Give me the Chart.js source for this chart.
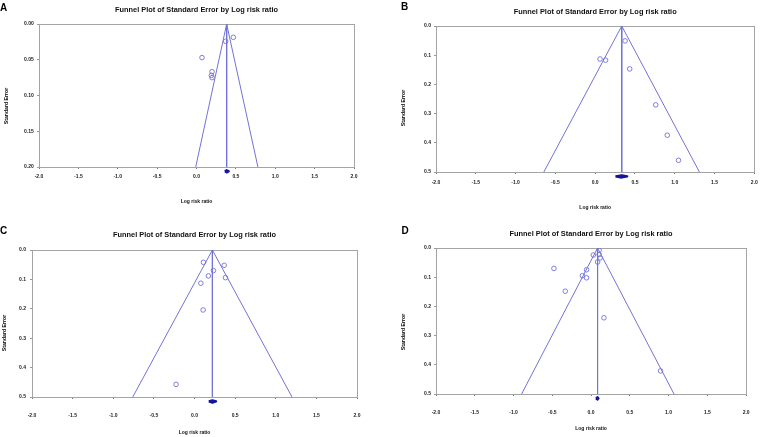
<!DOCTYPE html>
<html>
<head>
<meta charset="utf-8">
<script src="https://cdn.jsdelivr.net/npm/chart.js@4"></script>
<style>
  html, body { margin: 0; padding: 0; background: #fff; }
  body { width: 763px; height: 437px; position: relative; overflow: hidden; font-family: "Liberation Sans", Arial, sans-serif; }
  canvas { position: absolute; }
  .letter { position: absolute; font-weight: bold; font-size: 10px; line-height: 10px; color: #000; }
  .ytitle { position: absolute; width: 0; height: 0; }
  .ytitle span { position: absolute; left: 0; top: 0; white-space: nowrap; font-weight: bold; font-size: 5.2px; line-height: 5.2px; color: #000; transform: translate(-50%, -50%) rotate(-90deg); }
</style>
</head>
<body>
<canvas id="cA" width="381" height="218" style="left:0;top:0"></canvas>
<canvas id="cB" width="382" height="218" style="left:381px;top:0"></canvas>
<canvas id="cC" width="381" height="219" style="left:0;top:218px"></canvas>
<canvas id="cD" width="382" height="219" style="left:381px;top:218px"></canvas>

<div class="letter" style="left:0px;top:2.5px">A</div>
<div class="letter" style="left:401px;top:2px">B</div>
<div class="letter" style="left:0px;top:226px">C</div>
<div class="letter" style="left:401.5px;top:226px">D</div>

<div class="ytitle" style="left:6.7px;top:105.7px"><span>Standard Error</span></div>
<div class="ytitle" style="left:404.3px;top:108px"><span>Standard Error</span></div>
<div class="ytitle" style="left:4.7px;top:333px"><span>Standard Error</span></div>
<div class="ytitle" style="left:403.7px;top:332px"><span>Standard Error</span></div>

<script>
// ---------- DATA ----------
const chartTitle = "Funnel Plot of Standard Error by Log risk ratio";
const xAxisTitle = "Log risk ratio";
const xTickValues = [-2.0, -1.5, -1.0, -0.5, 0.0, 0.5, 1.0, 1.5, 2.0];
const yTicksA = [0.00, 0.05, 0.10, 0.15, 0.20];
const yTicksBCD = [0.0, 0.1, 0.2, 0.3, 0.4, 0.5];

// Panel A
const logRR_A = [0.07, 0.197, 0.189, 0.197, 0.37, 0.468];
const se_A    = [0.047, 0.0667, 0.0718, 0.075, 0.0242, 0.0186];
const pooled_A = 0.383;
const ci_A = [0.36, 0.41];
const funnel_A = [-0.01, 0.78];

// Panel B
const logRR_B = [0.376, 0.061, 0.131, 0.434, 0.761, 0.906, 1.047];
const se_B    = [0.051, 0.113, 0.117, 0.147, 0.270, 0.374, 0.460];
const pooled_B = 0.334;
const ci_B = [0.255, 0.404];
const funnel_B = [-0.645, 1.31];

// Panel C
const logRR_C = [0.110, 0.365, 0.233, 0.171, 0.381, 0.078, 0.106, -0.227];
const se_C    = [0.042, 0.052, 0.070, 0.088, 0.094, 0.113, 0.204, 0.457];
const pooled_C = 0.22;
const ci_C = [0.176, 0.266];
const funnel_C = [-0.76, 1.20];

// Panel D
const logRR_D = [-0.479, -0.333, -0.1125, -0.058, -0.058, 0.029, 0.104, 0.104, 0.117, 0.084, 0.166, 0.896];
const se_D    = [0.070, 0.148, 0.095, 0.0745, 0.102, 0.024, 0.008, 0.022, 0.034, 0.048, 0.239, 0.421];
const pooled_D = 0.084;
const ci_D = [0.062, 0.096];
const funnel_D = [-0.896, 1.07];

// ---------- STYLE ----------
const BLUE = '#7272d8';
const NAVY = '#1414a0';
const FRAME = '#a4a4a4';
const FONT = '"Liberation Sans", Arial, sans-serif';

function makePanel(id, logRR, se, pooled, ci, funnel, yTicks, seMax, decimals, L) {
  const pts = logRR.map((v, i) => ({ x: v, y: se[i] }));
  const dY = seMax * 1.03, dH = seMax * 0.008;
  const W = document.getElementById(id).width, H = document.getElementById(id).height;
  new Chart(document.getElementById(id), {
    type: 'scatter',
    data: {
      datasets: [
        { data: [{x: funnel[0], y: seMax}, {x: pooled, y: 0}, {x: funnel[1], y: seMax}],
          showLine: true, borderColor: BLUE, borderWidth: 1, pointRadius: 0, tension: 0, fill: false },
        { data: [{x: pooled, y: 0}, {x: pooled, y: seMax}],
          showLine: true, borderColor: BLUE, borderWidth: 1, pointRadius: 0, fill: false },
        { data: pts, pointStyle: 'circle', pointRadius: 2.3, pointBorderWidth: 0.9,
          pointBorderColor: BLUE, pointBackgroundColor: 'rgba(255,255,255,0)', showLine: false },
        { data: [{x: ci[0], y: dY}, {x: pooled, y: dY - dH}, {x: ci[1], y: dY}, {x: pooled, y: dY + dH}, {x: ci[0], y: dY}],
          showLine: true, borderColor: NAVY, backgroundColor: NAVY, borderWidth: 2.2, pointRadius: 0,
          borderJoinStyle: 'round', tension: 0, fill: false, clip: false }
      ]
    },
    options: {
      responsive: false, animation: false, devicePixelRatio: 1,
      layout: { padding: { left: 0, top: 0, bottom: 0, right: W - L.right } },
      plugins: {
        legend: { display: false }, tooltip: { enabled: false },
        title: { display: true, text: chartTitle, fullSize: false, color: '#111',
          font: { family: FONT, size: 7.4, weight: 'bold', lineHeight: 1 },
          padding: { top: L.tpt, bottom: L.top - 7.4 - L.tpt } }
      },
      scales: {
        x: {
          type: 'linear', min: -2, max: 2,
          afterBuildTicks: s => { s.ticks = xTickValues.map(v => ({ value: v })); },
          afterFit: s => { s.height = H - L.bottom; },
          grid: { drawOnChartArea: true, drawTicks: true, tickLength: 2, tickColor: '#777', lineWidth: 1,
            color: c => (c.tick && (c.tick.value === -2 || c.tick.value === 2)) ? FRAME : 'rgba(0,0,0,0)' },
          border: { display: true, color: FRAME, width: 1 },
          ticks: { padding: L.xpad, color: '#222', font: { family: FONT, size: 5, weight: 'bold' },
            callback: v => Number(v).toFixed(1), autoSkip: false, maxRotation: 0 },
          title: { display: true, text: xAxisTitle, color: '#111',
            font: { family: FONT, size: 5, weight: 'bold', lineHeight: 1 }, padding: { top: 0, bottom: L.xtpb } }
        },
        y: {
          type: 'linear', min: 0, max: seMax, reverse: true,
          afterBuildTicks: s => { s.ticks = yTicks.map(v => ({ value: v })); },
          afterFit: s => { s.width = L.left; },
          grid: { drawOnChartArea: true, drawTicks: true, tickLength: 2, tickColor: '#999', lineWidth: 1,
            color: c => (c.tick && (c.tick.value === 0 || Math.abs(c.tick.value - seMax) < 1e-9)) ? FRAME : 'rgba(0,0,0,0)' },
          border: { display: true, color: FRAME, width: 1 },
          ticks: { padding: L.ypad, color: '#222', font: { family: FONT, size: 5, weight: 'bold' },
            callback: v => Number(v).toFixed(decimals), autoSkip: false },
          title: { display: false }
        }
      }
    }
  });
}

makePanel('cA', logRR_A, se_A, pooled_A, ci_A, funnel_A, yTicksA, 0.20, 2,
  { left: 39, right: 354, top: 24, bottom: 167, tpt: 6.3, xpad: 4.2, xtpb: 14.2, ypad: 3.3 });
makePanel('cB', logRR_B, se_B, pooled_B, ci_B, funnel_B, yTicksBCD, 0.5, 1,
  { left: 55, right: 377, top: 26, bottom: 172, tpt: 8.3, xpad: 5.2, xtpb: 7.7, ypad: 3 });
makePanel('cC', logRR_C, se_C, pooled_C, ci_C, funnel_C, yTicksBCD, 0.5, 1,
  { left: 32, right: 357, top: 32, bottom: 179, tpt: 13.3, xpad: 13.5, xtpb: 2.3, ypad: 4 });
makePanel('cD', logRR_D, se_D, pooled_D, ci_D, funnel_D, yTicksBCD, 0.5, 1,
  { left: 55, right: 375, top: 30, bottom: 176, tpt: 12, xpad: 13.4, xtpb: 5.5, ypad: 3 });
</script>
</body>
</html>
